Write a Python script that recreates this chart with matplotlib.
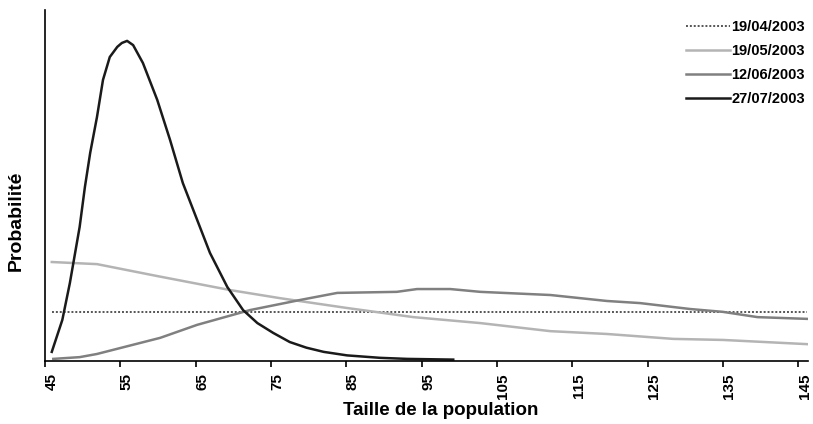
import matplotlib
matplotlib.use("Agg")
import matplotlib.pyplot as plt
from matplotlib.transforms import ScaledTranslation

plt.rcParams["font.family"] = ["Liberation Sans", "DejaVu Sans"]
plt.rcParams["font.weight"] = "bold"

# population size values (x) and probabilities (y)
x_0419 = [45.9, 146.2]
y_0419 = [0.0140, 0.0140]

x_0519 = [45.9, 51.9, 59.9, 69.6, 76.2, 85.1, 93.9, 102.8, 112.1, 119.6, 128.4, 135.0, 146.2]
y_0519 = [0.0282, 0.0276, 0.0242, 0.0202, 0.0179, 0.0151, 0.0125, 0.0108, 0.0085,
          0.0077, 0.0063, 0.0060, 0.0048]

x_0612 = [46.1, 49.6, 51.9, 55.0, 60.3, 65.2, 72.2, 78.9, 83.8, 91.7, 94.4, 98.8,
          102.8, 112.1, 119.6, 124.0, 130.7, 135.0, 139.6, 146.2]
y_0612 = [0.0006, 0.0011, 0.0020, 0.0037, 0.0066, 0.0103, 0.0145, 0.0174, 0.0194,
          0.0197, 0.0205, 0.0205, 0.0197, 0.0188, 0.0171, 0.0165, 0.0148, 0.0140,
          0.0125, 0.0120]

x_0727 = [45.9, 47.3, 48.3, 49.6, 50.3, 51.0, 51.9, 52.7, 53.6, 54.6, 55.2, 55.9, 56.7,
          58.0, 59.9, 61.6, 63.3, 65.2, 66.9, 69.2, 71.3, 73.2, 75.3, 77.5, 79.7,
          82.0, 85.1, 89.5, 93.1, 99.2]
y_0727 = [0.0026, 0.0117, 0.0222, 0.0382, 0.0496, 0.0593, 0.0695, 0.0801, 0.0866,
          0.0895, 0.0906, 0.0912, 0.0900, 0.0849, 0.0744, 0.0630, 0.0507, 0.0402, 0.0308,
          0.0211, 0.0145, 0.0108, 0.0080, 0.0054, 0.0038, 0.0026, 0.0016, 0.0009,
          0.0006, 0.0004]

tick_values = list(range(45, 146, 10))
labels = ["19/04/2003", "19/05/2003", "12/06/2003", "27/07/2003"]

fig = plt.figure(figsize=(8.13, 4.24), dpi=100)
ax = fig.add_axes([45 / 813, 63 / 424, 763 / 813, 351 / 424])

ax.plot(x_0419, y_0419, color="#555555", lw=1.4, linestyle=(0, (1, 1)), label=labels[0])
ax.plot(x_0519, y_0519, color="#b4b4b4", lw=1.8, label=labels[1])
ax.plot(x_0612, y_0612, color="#808080", lw=1.8, label=labels[2])
ax.plot(x_0727, y_0727, color="#1a1a1a", lw=1.8, label=labels[3])

ax.set_xlim(45, 146.3)
ax.set_ylim(0, 0.1)
ax.set_yticks([])
ax.set_xticks(tick_values)
ax.set_xticklabels([str(v) for v in tick_values], rotation=90, fontsize=11,
                   fontweight="bold")
ax.tick_params(axis="x", length=4, width=1.2, pad=5, direction="out")
shift = ScaledTranslation(6.5 / 100, 0, fig.dpi_scale_trans)
for lbl in ax.get_xticklabels():
    lbl.set_transform(lbl.get_transform() + shift)

for side in ["top", "right"]:
    ax.spines[side].set_visible(False)
for side in ["left", "bottom"]:
    ax.spines[side].set_linewidth(1.2)

ax.set_xlabel("Taille de la population", fontsize=13.5, fontweight="bold")
ax.xaxis.set_label_coords(0.519, -0.117)
ax.set_ylabel("Probabilité", fontsize=14, fontweight="bold")
ax.yaxis.set_label_coords(-0.026, 0.399)

leg = ax.legend(loc="upper right", bbox_to_anchor=(808 / 813, 407 / 424),
                bbox_transform=fig.transFigure, frameon=False, fontsize=10.5,
                handlelength=3.0, handletextpad=0.1, labelspacing=0.68,
                borderaxespad=0, borderpad=0.2)
for t in leg.get_texts():
    t.set_fontweight("bold")

fig.savefig("out.png", dpi=100)
